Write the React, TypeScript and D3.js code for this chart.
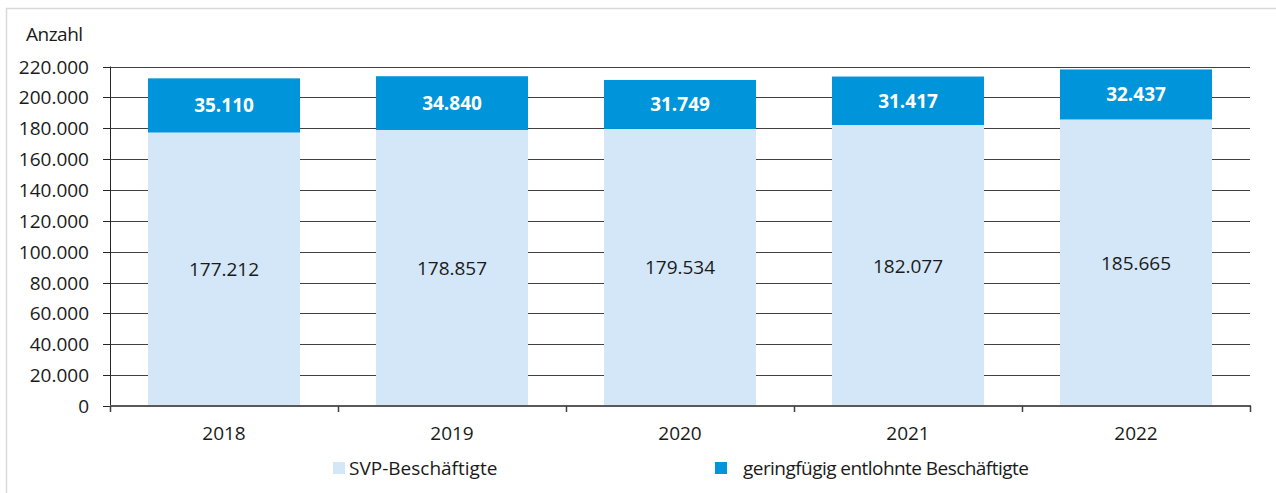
import React from "react";
import * as d3 from "d3";

const years = ["2018", "2019", "2020", "2021", "2022"];
const svp = [177212, 178857, 179534, 182077, 185665];
const geringfuegig = [35110, 34840, 31749, 31417, 32437];
const yTicks = [0, 20000, 40000, 60000, 80000, 100000, 120000, 140000, 160000, 180000, 200000, 220000];
const seriesNames = ["SVP-Beschäftigte", "geringfügig entlohnte Beschäftigte"];
const colors = ["#D3E7F8", "#0095DA"];

const W = 1276;
const H = 493;
const FONT = "'Open Sans', 'Noto Sans', sans-serif";
const fmt = (v: number) => d3.format(",")(v).replace(/,/g, ".");

export default function App() {
  const x = d3.scaleBand<string>().domain(years).range([110, 1250]).paddingInner(1 / 3).paddingOuter(1 / 6);
  const y = d3.scaleLinear().domain([0, 220000]).range([406, 66.5]);
  const step = x.step();
  const x0 = 110;
  const x1 = 1250;

  return (
    <svg width={W} height={H} style={{ position: "absolute", left: 0, top: 0, fontFamily: FONT }}>
      <rect x={6.5} y={8.5} width={W + 10} height={H + 10} fill="white" stroke="#d9d9d9" strokeWidth={1.5} />
      {/* gridlines */}
      {yTicks.filter((t) => t > 0).map((t) => (
        <line key={t} x1={x0} x2={x1} y1={Math.round(y(t)) + 0.5} y2={Math.round(y(t)) + 0.5} stroke="#404040" strokeWidth={1} />
      ))}
      {/* bars */}
      {years.map((yr, i) => {
        const bx = x(yr)!;
        const bw = x.bandwidth();
        const top1 = y(svp[i]);
        const top2 = y(svp[i] + geringfuegig[i]);
        return (
          <g key={yr}>
            <rect x={bx} y={top1} width={bw} height={y(0) - top1} fill={colors[0]} />
            <rect x={bx} y={top2} width={bw} height={top1 - top2} fill={colors[1]} />
            <text x={bx + bw / 2} y={(top1 + y(0)) / 2} textAnchor="middle" dominantBaseline="central" fontSize={19} fill="#1a1a1a">
              {fmt(svp[i])}
            </text>
            <text x={bx + bw / 2} y={(top1 + top2) / 2} textAnchor="middle" dominantBaseline="central" fontSize={19} fontWeight="bold" fill="white">
              {fmt(geringfuegig[i])}
            </text>
          </g>
        );
      })}
      {/* y axis */}
      <line x1={x0 + 0.5} x2={x0 + 0.5} y1={y(220000)} y2={y(0)} stroke="#262626" strokeWidth={1} />
      {yTicks.map((t) => (
        <g key={t}>
          <line x1={x0 - 7} x2={x0} y1={Math.round(y(t)) + 0.5} y2={Math.round(y(t)) + 0.5} stroke="#262626" />
          <text x={89} y={y(t)} textAnchor="end" dominantBaseline="central" fontSize={19} fill="#1a1a1a">
            {fmt(t)}
          </text>
        </g>
      ))}
      {/* x axis */}
      <line x1={x0} x2={x1 + 1} y1={y(0)} y2={y(0)} stroke="#595959" strokeWidth={2} />
      {d3.range(years.length + 1).map((k) => (
        <line key={k} x1={x0 + k * step + 0.5} x2={x0 + k * step + 0.5} y1={y(0)} y2={y(0) + 6} stroke="#404040" strokeWidth={1.5} />
      ))}
      {years.map((yr) => (
        <text key={yr} x={x(yr)! + x.bandwidth() / 2} y={433} textAnchor="middle" dominantBaseline="central" fontSize={19} fill="#1a1a1a">
          {yr}
        </text>
      ))}
      <text x={26} y={41} fontSize={19} letterSpacing={-0.5} fill="#1a1a1a">Anzahl</text>
      {/* legend */}
      {[333, 715].map((lx, i) => (
        <g key={i}>
          <rect x={lx} y={462} width={12} height={12} fill={colors[i]} />
          <text x={lx + (i === 0 ? 16 : 28)} y={468} dominantBaseline="central" fontSize={19} letterSpacing={i === 0 ? 0 : -0.55} fill="#1a1a1a">
            {seriesNames[i]}
          </text>
        </g>
      ))}
    </svg>
  );
}
